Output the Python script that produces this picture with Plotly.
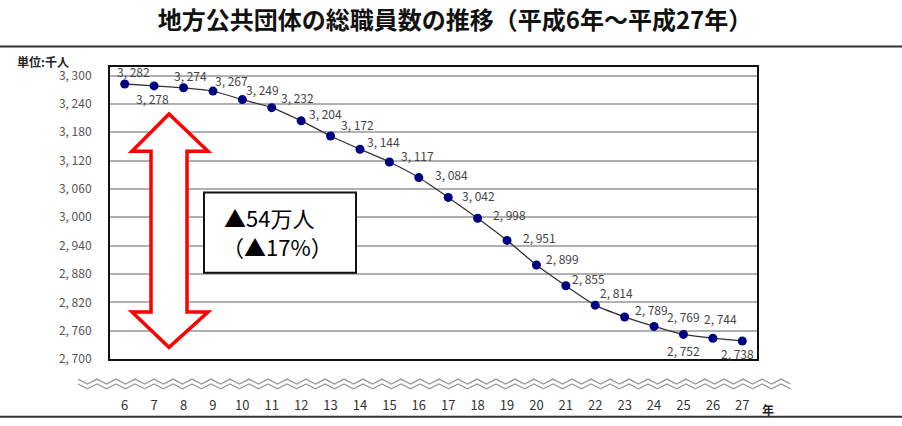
import numpy as np
import plotly.graph_objects as go

# ---- data ----
years = list(range(6, 28))
staff = [3282, 3278, 3274, 3267, 3249, 3232, 3204, 3172, 3144, 3117, 3084,
         3042, 2998, 2951, 2899, 2855, 2814, 2789, 2769, 2752, 2744, 2738]
year_labels = [str(y) for y in years]
y_ticks = list(range(2700, 3301, 60))
y_tick_labels = [f"{v:,}".replace(",", ", ") for v in y_ticks]
title_text = "地方公共団体の総職員数の推移（平成6年～平成27年）"
unit_text = "単位:千人"
change_line1 = "▲54万人"
change_line2 = "（▲17%）"

# label offsets (px) for each data label (style)
label_dx = [9, -2, 7, 19, 20, 26, 24, 27, 24, 28, 33, 30, 32, 32, 26, 23, 21, 27, 29, 0, 8, -5]
label_dy = [-13, 13, -12, -11, -10, -10, -7, -11, -8, -6, -3, -2, -4, -3, -6, -7, -13, -7, -10, 16, -20, 12]

W, H = 902, 426
L, R, T, B = 110, 757, 67, 365
pw, ph = R - L, B - T

def px(x):
    return (x - L) / pw

def py(y):
    return (B - y) / ph

fig = go.Figure()
fig.add_trace(go.Scatter(
    x=years, y=staff, mode="lines+markers",
    line=dict(color="#333333", width=1.3, shape="spline", smoothing=0.6),
    marker=dict(color="#000080", size=9),
    hoverinfo="x+y", showlegend=False,
))

annotations = []
for xv, yv, dx, dy in zip(years, staff, label_dx, label_dy):
    annotations.append(dict(
        x=xv, y=yv, xref="x", yref="y", text=f"{yv:,}".replace(",", ", "),
        showarrow=False, xshift=dx, yshift=-dy,
        font=dict(family="Noto Sans CJK JP", size=12, color="#444444"),
    ))

annotations.append(dict(
    x=px(15), y=py(61), xref="paper", yref="paper", xanchor="left", yanchor="middle",
    text=f"<b>{unit_text}</b>", showarrow=False,
    font=dict(family="Noto Sans CJK JP", size=12, color="#222222"),
))
annotations.append(dict(
    x=px(768), y=py(417), xref="paper", yref="paper", xanchor="center", yanchor="middle",
    text="<b>年</b>", showarrow=False,
    font=dict(family="Noto Sans CJK JP", size=12, color="#222222"),
))
annotations.append(dict(
    x=px(222), y=py(220), xref="paper", yref="paper", xanchor="left", yanchor="middle",
    text=change_line1, showarrow=False,
    font=dict(family="Noto Sans CJK JP", size=22, color="#000000"),
))
annotations.append(dict(
    x=px(220), y=py(250), xref="paper", yref="paper", xanchor="left", yanchor="middle",
    text=change_line2, showarrow=False,
    font=dict(family="Noto Sans CJK JP", size=22, color="#000000"),
))

shapes = []
# frame lines across page
for yy in (46, 424):
    shapes.append(dict(type="line", xref="paper", yref="paper",
                       x0=px(0), x1=px(W), y0=py(yy), y1=py(yy),
                       line=dict(color="#333333", width=2)))

# double-headed outlined arrow
arrow_pts = [(169, 115), (132, 153), (151, 153), (151, 317), (132, 317), (169, 353),
             (208, 317), (187, 317), (187, 153), (208, 153)]
path = "M " + " L ".join(f"{px(a):.5f},{py(b):.5f}" for a, b in arrow_pts) + " Z"
shapes.append(dict(type="path", xref="paper", yref="paper", path=path,
                   fillcolor="white", line=dict(color="#ff0000", width=3.5)))

# text box
shapes.append(dict(type="rect", xref="paper", yref="paper",
                   x0=px(204), x1=px(356), y0=py(277), y1=py(195),
                   fillcolor="white", line=dict(color="#111111", width=2)))

# wavy break lines
xs = np.arange(78, 794, 9.5)
for base in (388, 393):
    ys = [base + (-2.5 if i % 2 == 0 else 2.5) for i in range(len(xs))]
    p = "M " + " L ".join(f"{px(a):.5f},{py(b):.5f}" for a, b in zip(xs, ys))
    shapes.append(dict(type="path", xref="paper", yref="paper", path=p,
                       line=dict(color="#999999", width=1.3)))

fig.update_layout(
    width=W, height=H,
    margin=dict(l=L, r=W - R, t=T, b=H - B),
    paper_bgcolor="white", plot_bgcolor="white",
    title=dict(text=f"<b>{title_text}</b>", x=455 / W, xref="container", xanchor="center",
               y=1 - 21 / H, yref="container", yanchor="middle",
               font=dict(family="Noto Sans CJK JP", size=24, color="#111111")),
    xaxis=dict(range=[5.5, 27.5], tickvals=years, ticktext=year_labels,
               showgrid=False, zeroline=False, showline=True, mirror=True,
               linecolor="#111111", linewidth=2, ticks="", ticklabelstandoff=33,
               tickfont=dict(family="Noto Sans CJK JP", size=13, color="#333333")),
    yaxis=dict(range=[2700, 3318], tickvals=y_ticks, ticktext=y_tick_labels,
               showgrid=True, gridcolor="#b0b0b0", gridwidth=1.5, zeroline=False,
               showline=True, mirror=True, linecolor="#111111", linewidth=2,
               ticks="", ticklabelstandoff=14,
               tickfont=dict(family="Noto Sans CJK JP", size=12, color="#555555")),
    annotations=annotations,
    shapes=shapes,
)

fig.write_html("out.html")
